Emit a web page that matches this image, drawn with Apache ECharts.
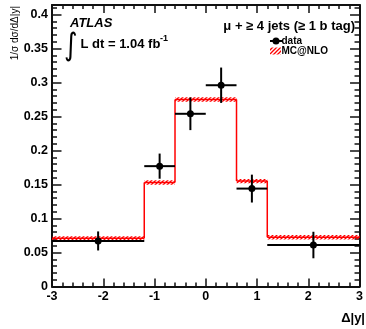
<!DOCTYPE html>
<html><head><meta charset="utf-8">
<script src="https://cdn.jsdelivr.net/npm/echarts@6/dist/echarts.min.js"></script>
<style>html,body{margin:0;padding:0;background:#fff}#c{width:366px;height:329px}</style>
</head><body><div id="c"></div>
<script>
const FONT = '"Liberation Sans", Arial, Helvetica, sans-serif';

// MC@NLO histogram (variable bins)
const mcEdges  = [-3, -1.2, -0.6, 0.6, 1.2, 3];
const mcValues = [0.0708, 0.153, 0.275, 0.155, 0.0725];
const mcErrors = [0.0032, 0.0032, 0.0032, 0.0032, 0.0032];

// data points
const dataX     = [-2.1, -0.9, -0.3, 0.3, 0.9, 2.1];
const dataXLow  = [-3, -1.2, -0.6, 0, 0.6, 1.2];
const dataXHigh = [-1.2, -0.6, 0, 0.6, 1.2, 3];
const dataY     = [0.067, 0.177, 0.254, 0.296, 0.144, 0.061];
const dataErr   = [0.014, 0.0185, 0.024, 0.026, 0.0205, 0.0195];

// tick labels
const xTickLabels = ['-3', '-2', '-1', '0', '1', '2', '3'];
const yTickLabels = ['0', '0.05', '0.1', '0.15', '0.2', '0.25', '0.3', '0.35', '0.4'];

const Y_MAX = 0.414;

function makeHatch() {
  const c = document.createElement('canvas');
  c.width = 4; c.height = 4;
  const g = c.getContext('2d');
  g.strokeStyle = '#ff0000';
  g.lineWidth = 1.3;
  g.beginPath();
  g.moveTo(-1, 5); g.lineTo(5, -1);
  g.moveTo(-1, 1); g.lineTo(1, -1);
  g.moveTo(3, 5); g.lineTo(5, 3);
  g.stroke();
  return c;
}
const hatchImg = makeHatch();

const chart = echarts.init(document.getElementById('c'), null, {renderer: 'canvas'});

const tickStyle = {color: '#111', width: 1.5};
const lineStyle = {color: '#111', width: 2};

function yAxisDef(pos, interval, len, labels, line) {
  return {
    type: 'value', position: pos, min: 0, max: Y_MAX, interval: interval,
    axisLine: {show: line, onZero: false, lineStyle: lineStyle},
    axisTick: {show: true, inside: true, length: len, lineStyle: tickStyle},
    splitLine: {show: false},
    axisLabel: labels ? {
      show: true, margin: 4, color: '#000', fontFamily: FONT, fontWeight: 'bold', fontSize: 12.5,
      formatter: function (v) {
        const k = Math.round(v / 0.05);
        if (Math.abs(v - k * 0.05) > 1e-6) return '';
        return yTickLabels[k] !== undefined ? yTickLabels[k] : '';
      }
    } : {show: false}
  };
}

function xAxisDef(pos, labels) {
  return {
    type: 'value', position: pos, min: -3, max: 3, interval: 1,
    axisLine: {show: true, onZero: false, lineStyle: lineStyle},
    axisTick: {show: true, inside: true, length: 8, lineStyle: tickStyle},
    minorTick: {show: true, splitNumber: 5, length: 4, lineStyle: tickStyle},
    splitLine: {show: false}, minorSplitLine: {show: false},
    axisLabel: labels ? {
      show: true, margin: 4, color: '#000', fontFamily: FONT, fontWeight: 'bold', fontSize: 12.5,
      formatter: function (v) { return xTickLabels[Math.round(v + 3)]; }
    } : {show: false}
  };
}

const option = {
  animation: false,
  backgroundColor: '#fff',
  grid: {left: 52, right: 2, top: 5, bottom: 42.5, containLabel: false},
  xAxis: [xAxisDef('bottom', true), xAxisDef('top', false)],
  yAxis: [
    yAxisDef('left', 0.05, 9.5, true, true),
    yAxisDef('left', 0.01, 5, false, false),
    yAxisDef('right', 0.05, 9.5, false, true),
    yAxisDef('right', 0.01, 5, false, false)
  ],
  series: [
    {
      type: 'custom', xAxisIndex: 0, yAxisIndex: 0, clip: true, z: 2,
      data: mcValues.map((v, i) => [mcEdges[i], mcEdges[i + 1], v, mcErrors[i]]),
      renderItem: function (params, api) {
        const i = params.dataIndex;
        const lo = api.value(0), hi = api.value(1), v = api.value(2), e = api.value(3);
        const p1 = api.coord([lo, v + e]), p2 = api.coord([hi, v - e]);
        const a = api.coord([lo, v]), b = api.coord([hi, v]);
        const children = [
          {type: 'rect', shape: {x: p1[0], y: p1[1], width: p2[0] - p1[0], height: p2[1] - p1[1]},
           style: {fill: {image: hatchImg, repeat: 'repeat'}}},
          {type: 'line', shape: {x1: a[0], y1: a[1], x2: b[0], y2: b[1]},
           style: {stroke: '#ff0000', lineWidth: 1.5}}
        ];
        if (i > 0) {
          const c = api.coord([lo, mcValues[i - 1]]);
          children.push({type: 'line', shape: {x1: a[0], y1: c[1], x2: a[0], y2: a[1]},
            style: {stroke: '#ff0000', lineWidth: 1.5}});
        }
        return {type: 'group', children: children};
      }
    },
    {
      type: 'custom', xAxisIndex: 0, yAxisIndex: 0, clip: false, z: 3,
      data: dataX.map((x, i) => [x, dataY[i], dataXLow[i], dataXHigh[i], dataErr[i]]),
      renderItem: function (params, api) {
        const x = api.value(0), y = api.value(1), xl = api.value(2), xh = api.value(3), e = api.value(4);
        const c = api.coord([x, y]);
        const l = api.coord([xl, y]), r = api.coord([xh, y]);
        const t = api.coord([x, y + e]), bt = api.coord([x, y - e]);
        return {type: 'group', children: [
          {type: 'line', shape: {x1: l[0], y1: l[1], x2: r[0], y2: r[1]}, style: {stroke: '#000', lineWidth: 2}},
          {type: 'line', shape: {x1: t[0], y1: t[1], x2: bt[0], y2: bt[1]}, style: {stroke: '#000', lineWidth: 2}},
          {type: 'circle', shape: {cx: c[0], cy: c[1], r: 3.5}, style: {fill: '#000'}}
        ]};
      }
    }
  ],
  graphic: [
    {type: 'text', left: 70, top: 17, style: {text: 'ATLAS', font: 'italic bold 13px ' + FONT, fill: '#000'}},
    {type: 'text', x: 64, y: 47, style: {text: '\u222B', font: '26px "DejaVu Sans"', fill: '#000', verticalAlign: 'middle', align: 'left'}, scaleY: 1.2},
    {type: 'text', x: 80.5, y: 44, style: {text: 'L dt = 1.04 fb', font: 'bold 13px ' + FONT, fill: '#000', verticalAlign: 'middle'}},
    {type: 'text', x: 160, y: 39, style: {text: '-1', font: 'bold 9px ' + FONT, fill: '#000', verticalAlign: 'middle'}},
    {type: 'text', x: 355, y: 26, style: {text: '\u03BC + \u2265 4 jets (\u2265 1 b tag)', font: 'bold 13px ' + FONT, fill: '#000', align: 'right', verticalAlign: 'middle'}},
    {type: 'line', shape: {x1: 270, y1: 41, x2: 282, y2: 41}, style: {stroke: '#000', lineWidth: 2}},
    {type: 'circle', shape: {cx: 276, cy: 41, r: 3.5}, style: {fill: '#000'}},
    {type: 'text', x: 281.5, y: 41.5, style: {text: 'data', font: 'bold 10px ' + FONT, fill: '#000', verticalAlign: 'middle'}},
    {type: 'rect', shape: {x: 270, y: 47.5, width: 11, height: 7}, style: {fill: {image: hatchImg, repeat: 'repeat'}}},
    {type: 'text', x: 281.5, y: 51.5, style: {text: 'MC@NLO', font: 'bold 10px ' + FONT, fill: '#000', verticalAlign: 'middle'}},
    {type: 'text', x: 365, y: 318, style: {text: '\u0394|y|', font: 'bold 13px ' + FONT, fill: '#000', align: 'right', verticalAlign: 'middle'}},
    {type: 'text', x: 15, y: 6, rotation: Math.PI / 2, style: {text: '1/\u03C3 d\u03C3/d\u0394|y|', font: '10px ' + FONT, fill: '#000', align: 'right', verticalAlign: 'middle'}}
  ]
};
chart.setOption(option);
</script>
</body></html>
